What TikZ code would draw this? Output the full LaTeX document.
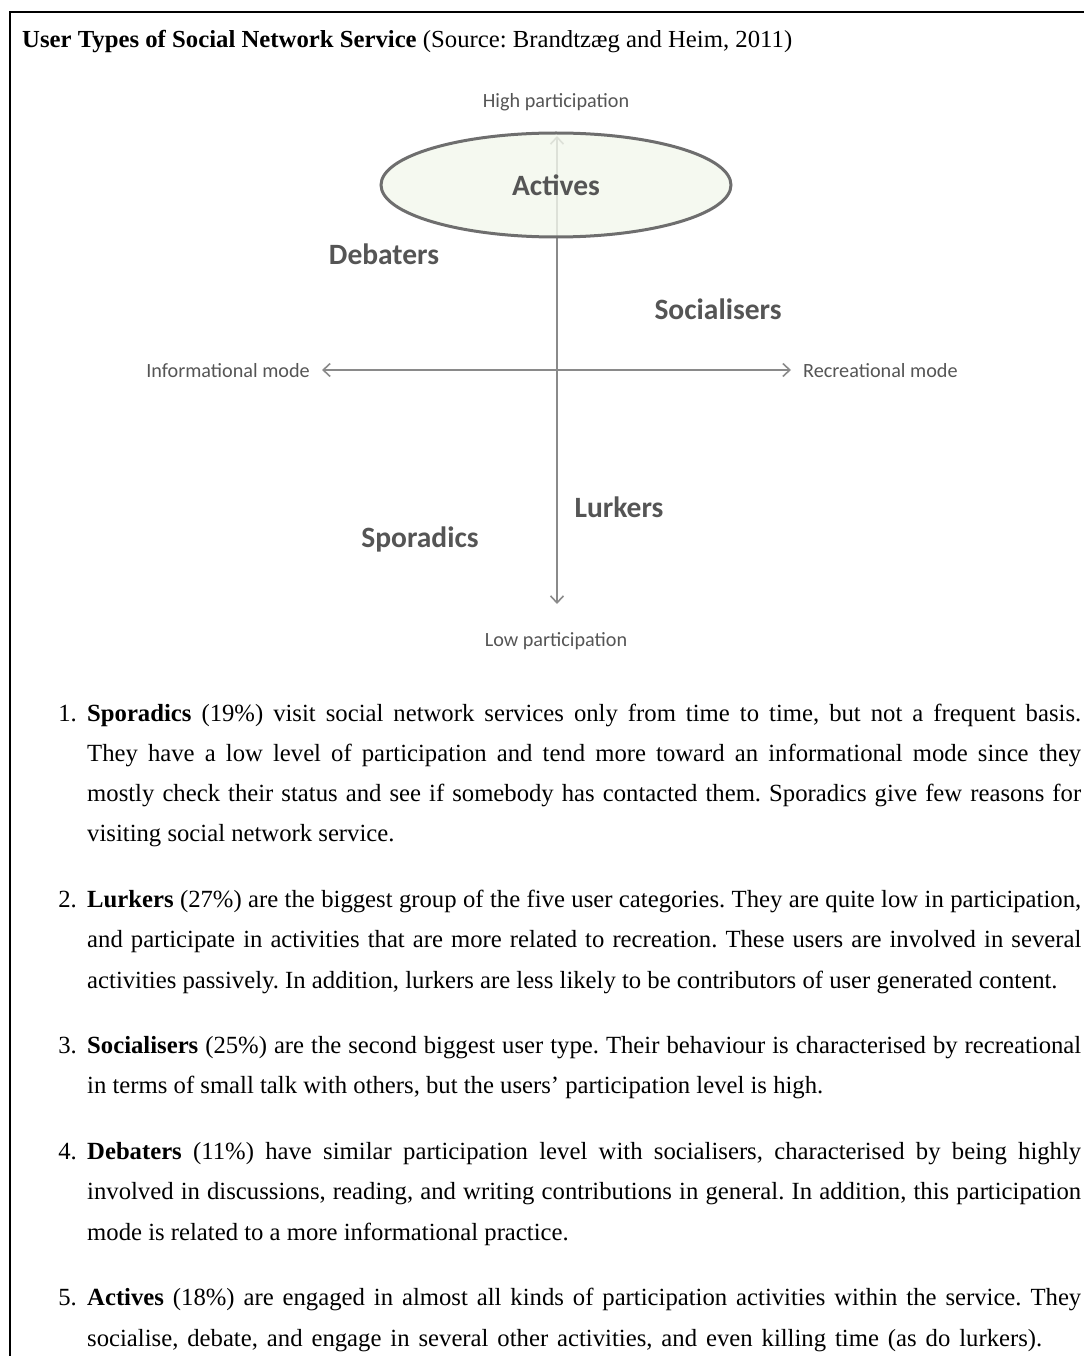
\documentclass[tikz,border=0pt]{standalone}
\usepackage{fontspec}
\usepackage{graphicx}
\setmainfont{Liberation Serif}
\newfontfamily\calib{Carlito}
\usetikzlibrary{arrows.meta}
\definecolor{axisgray}{HTML}{8A8A8A}
\definecolor{labelgray}{HTML}{555555}
\definecolor{ringgray}{HTML}{6E6E6E}
\definecolor{paleGreen}{HTML}{F2F7EC}
\newcommand\fullline[1]{\makebox[994pt][s]{#1}}
\begin{document}
\frenchspacing
\begin{tikzpicture}[x=1pt,y=-1pt,
  bodytext/.style={anchor=base west,inner sep=0pt,font=\fontsize{24.7}{40.3}\selectfont},
  itemnum/.style={anchor=base east,inner sep=0pt,font=\fontsize{24.7}{40.3}\selectfont},
  axislabel/.style={anchor=base,inner sep=0pt,text=labelgray,font=\calib\fontsize{20.2}{24}\selectfont},
  typelabel/.style={anchor=base,inner sep=0pt,text=labelgray,font=\calib\bfseries\fontsize{29.5}{34}\selectfont},
  axisline/.style={draw=axisgray,line width=2.4pt,{Straight Barb[length=7pt,width=13pt,line width=1.6pt]}-{Straight Barb[length=7pt,width=13pt,line width=1.6pt]}}]
\useasboundingbox (0,0) rectangle (1084,1356);
% frame (top and left edges)
\draw[line width=2.2pt] (10,1356) -- (10,12) -- (1084,12);
% title
\node[anchor=base west,inner sep=0pt,font=\fontsize{24.5}{30}\selectfont] (title) at (22,48)
  {\resizebox{770pt}{\height}{\textbf{User Types of Social Network Service} (Source: Brandtzæg and Heim, 2011)}};
% axes
\coordinate (top) at (557,136);
\coordinate (bottom) at (557,604);
\coordinate (left) at (322,370);
\coordinate (right) at (791,370);
\draw[axisline] (bottom) -- (top);
\draw[axisline] (left) -- (right);
% active users ellipse
\path[draw=ringgray,line width=3pt,fill=paleGreen,fill opacity=0.8] (556,185) ellipse [x radius=175pt,y radius=52pt];
\node[name=actives,typelabel] at (556,196) {Actives};
% axis labels
\node[name=high,axislabel] at (556,108) {High participation};
\node[name=low,axislabel] at (556,646) {Low participation};
\node[name=info,axislabel,anchor=base east] at (310,377) {Informational mode};
\node[name=recr,axislabel,anchor=base west] at (803,377) {Recreational mode};
% user types
\node[name=debaters,typelabel] at (384,265) {Debaters};
\node[name=socialisers,typelabel] at (718,319) {Socialisers};
\node[name=lurkers,typelabel] at (619,517) {Lurkers};
\node[name=sporadics,typelabel] at (420,547) {Sporadics};
% descriptions
\node[name=n1,itemnum] at (77,721) {1.};
\node[name=a1,bodytext] at (87,721) {\fullline{\textbf{Sporadics} (19\%) visit social network services only from time to time, but not a frequent basis.}};
\node[name=a2,bodytext] at (87,761) {\fullline{They have a low level of participation and tend more toward an informational mode since they}};
\node[name=a3,bodytext] at (87,801) {\fullline{mostly check their status and see if somebody has contacted them. Sporadics give few reasons for}};
\node[name=a4,bodytext] at (87,841) {visiting social network service.};
\node[name=n2,itemnum] at (77,907) {2.};
\node[name=b1,bodytext] at (87,907) {\fullline{\textbf{Lurkers} (27\%) are the biggest group of the five user categories. They are quite low in participation,}};
\node[name=b2,bodytext] at (87,947) {\fullline{and participate in activities that are more related to recreation. These users are involved in several}};
\node[name=b3,bodytext] at (87,988) {activities passively. In addition, lurkers are less likely to be contributors of user generated content.};
\node[name=n3,itemnum] at (77,1053) {3.};
\node[name=c1,bodytext] at (87,1053) {\fullline{\textbf{Socialisers} (25\%) are the second biggest user type. Their behaviour is characterised by recreational}};
\node[name=c2,bodytext] at (87,1093) {in terms of small talk with others, but the users’ participation level is high.};
\node[name=n4,itemnum] at (77,1159) {4.};
\node[name=d1,bodytext] at (87,1159) {\fullline{\textbf{Debaters} (11\%) have similar participation level with socialisers, characterised by being highly}};
\node[name=d2,bodytext] at (87,1199) {\fullline{involved in discussions, reading, and writing contributions in general. In addition, this participation}};
\node[name=d3,bodytext] at (87,1240) {mode is related to a more informational practice.};
\node[name=n5,itemnum] at (77,1305) {5.};
\node[name=e1,bodytext] at (87,1305) {\fullline{\textbf{Actives} (18\%) are engaged in almost all kinds of participation activities within the service. They}};
\node[name=e2,bodytext] at (87,1346) {\makebox[955pt][s]{socialise, debate, and engage in several other activities, and even killing time (as do lurkers).}};
\end{tikzpicture}
\end{document}
